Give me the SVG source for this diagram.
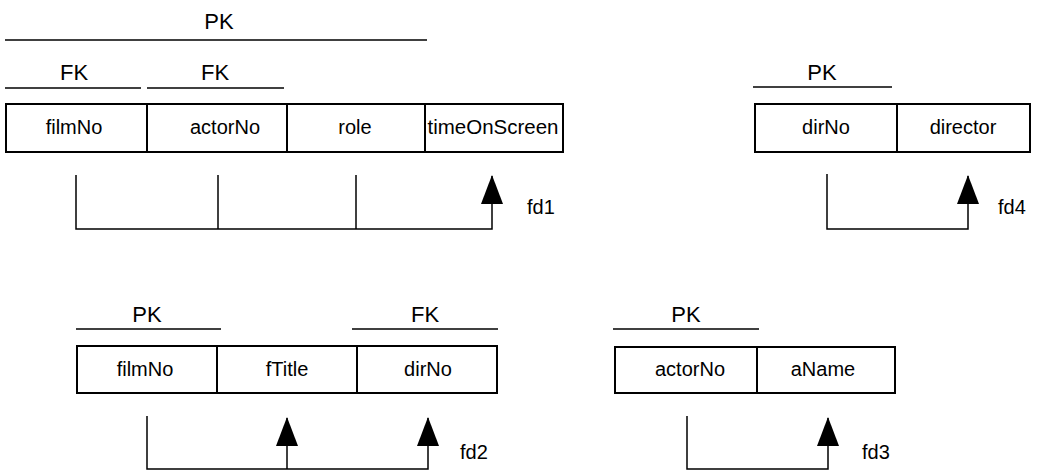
<svg xmlns="http://www.w3.org/2000/svg" width="1037" height="471" viewBox="0 0 1037 471">
<style>
text{font-family:"Liberation Sans",Arial,sans-serif;fill:#000}
.k{font-size:22px;text-anchor:middle}
.c{font-size:20px;text-anchor:middle}
.fd{font-size:20px}
.ln{stroke:#000;stroke-width:1.5;fill:none}
.box{stroke:#000;stroke-width:2;fill:#fff}
</style>
<defs>
<marker id="ah" markerUnits="userSpaceOnUse" markerWidth="29" markerHeight="22" refX="28" refY="11" orient="auto" viewBox="0 0 29 22">
<path d="M0,0 L29,11 L0,22 Z" fill="#000"/>
</marker>
</defs>

<g id="keys">
<text class="k" x="219" y="29">PK</text>
<line class="ln" x1="5" y1="40" x2="427" y2="40"/>
<text class="k" x="74" y="80">FK</text>
<line class="ln" x1="5" y1="88" x2="141" y2="88"/>
<text class="k" x="215" y="80">FK</text>
<line class="ln" x1="147" y1="88" x2="284" y2="88"/>
<text class="k" x="822" y="80">PK</text>
<line class="ln" x1="753" y1="87" x2="892" y2="87"/>
<text class="k" x="147" y="322">PK</text>
<line class="ln" x1="76" y1="329" x2="221" y2="329"/>
<text class="k" x="425" y="322">FK</text>
<line class="ln" x1="352" y1="329" x2="498" y2="329"/>
<text class="k" x="686" y="322">PK</text>
<line class="ln" x1="613" y1="329" x2="759" y2="329"/>
</g>

<g id="table-filmActor">
<rect class="box" x="6" y="104" width="557" height="48"/>
<line class="box" x1="147" y1="104" x2="147" y2="152"/>
<line class="box" x1="287" y1="104" x2="287" y2="152"/>
<line class="box" x1="425" y1="104" x2="425" y2="152"/>
<text class="c" x="74" y="134">filmNo</text>
<text class="c" x="225" y="134">actorNo</text>
<text class="c" x="355" y="134">role</text>
<text class="c" x="493" y="134" textLength="131" lengthAdjust="spacingAndGlyphs">timeOnScreen</text>
</g>

<g id="table-director">
<rect class="box" x="755" y="104" width="275" height="48"/>
<line class="box" x1="897" y1="104" x2="897" y2="152"/>
<text class="c" x="826" y="134">dirNo</text>
<text class="c" x="963" y="134">director</text>
</g>

<g id="table-film">
<rect class="box" x="77" y="346" width="420" height="47"/>
<line class="box" x1="217" y1="346" x2="217" y2="393"/>
<line class="box" x1="357" y1="346" x2="357" y2="393"/>
<text class="c" x="145" y="376">filmNo</text>
<text class="c" x="287" y="376">fTitle</text>
<text class="c" x="428" y="376">dirNo</text>
</g>

<g id="table-actor">
<rect class="box" x="615" y="347" width="280" height="46"/>
<line class="box" x1="757" y1="347" x2="757" y2="393"/>
<text class="c" x="690" y="376">actorNo</text>
<text class="c" x="823" y="376">aName</text>
</g>

<g id="connectors">
<polyline class="ln" points="76,175 76,229 492,229 492,176" marker-end="url(#ah)"/>
<line class="ln" x1="218" y1="175" x2="218" y2="229"/>
<line class="ln" x1="356" y1="175" x2="356" y2="229"/>
<text class="fd" x="527" y="214">fd1</text>

<polyline class="ln" points="827,174 827,229 968,229 968,176" marker-end="url(#ah)"/>
<text class="fd" x="998" y="214">fd4</text>

<polyline class="ln" points="147,416 147,469 428,469 428,418" marker-end="url(#ah)"/>
<line class="ln" x1="287" y1="469" x2="287" y2="418" marker-end="url(#ah)"/>
<text class="fd" x="460" y="459">fd2</text>

<polyline class="ln" points="687,416 687,469 828,469 828,418" marker-end="url(#ah)"/>
<text class="fd" x="862" y="459">fd3</text>
</g>
</svg>
